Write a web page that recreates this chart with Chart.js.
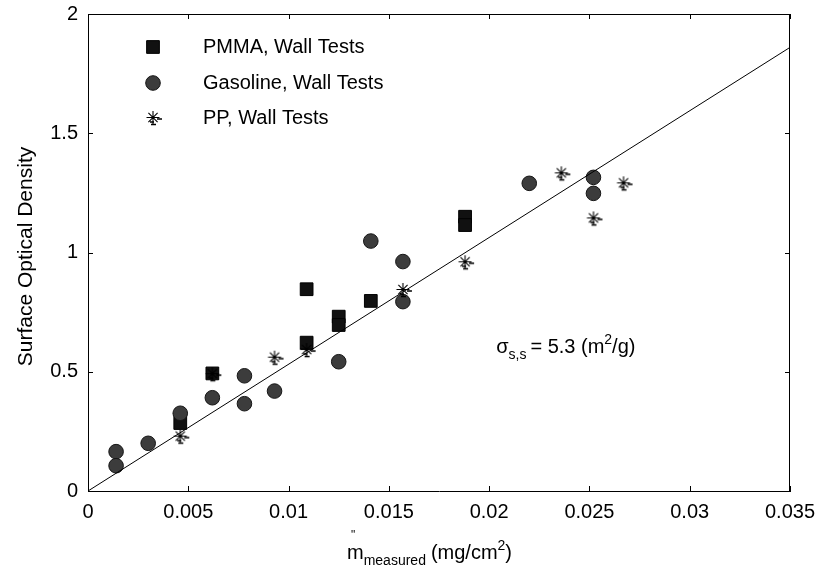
<!DOCTYPE html>
<html>
<head>
<meta charset="utf-8">
<script src="https://cdn.jsdelivr.net/npm/chart.js@4.4.1/dist/chart.umd.min.js"></script>
<style>
  html, body { margin: 0; padding: 0; background: #fff; }
  #wrap { width: 820px; height: 569px; }
</style>
</head>
<body>
<div id="wrap"><canvas id="chart" width="820" height="569"></canvas></div>
<script>
// values
const pmmaX = [0.0046, 0.0062, 0.0109, 0.0109, 0.0125, 0.0125, 0.0141, 0.0188, 0.0188];
const pmmaY = [0.285, 0.493, 0.622, 0.846, 0.731, 0.696, 0.797, 1.150, 1.115];

const gasX = [0.0014, 0.0014, 0.0030, 0.0046, 0.0062, 0.0078, 0.0078, 0.0093, 0.0125, 0.0141, 0.0157, 0.0157, 0.0220, 0.0252, 0.0252];
const gasY = [0.165, 0.106, 0.200, 0.326, 0.391, 0.483, 0.366, 0.419, 0.542, 1.048, 0.962, 0.794, 1.290, 1.315, 1.248];

const ppX = [0.0046, 0.0062, 0.0093, 0.0109, 0.0157, 0.0188, 0.0236, 0.0252, 0.0267];
const ppY = [0.228, 0.490, 0.559, 0.591, 0.843, 0.959, 1.332, 1.143, 1.290];

// fitted line, sigma = 5.3 m2/g
const fitX = [0, 0.035];
const fitY = [0, 1.86];

const seriesLabels = ['PMMA, Wall Tests', 'Gasoline, Wall Tests', 'PP, Wall Tests'];
const xTicks = [0, 0.005, 0.01, 0.015, 0.02, 0.025, 0.03, 0.035];
const yTicks = [0, 0.5, 1, 1.5, 2];

const FONT = "'Liberation Sans', Arial, sans-serif";

function pts(xs, ys) {
    return xs.map((x, i) => ({x: x, y: ys[i]}));
}

// asterisk marker with the little smudge the original has
function makeStar() {
    const c = document.createElement('canvas');
    c.width = 24;
    c.height = 24;
    const g = c.getContext('2d');
    g.strokeStyle = '#000';
    g.lineWidth = 1.1;
    const cx = 12, cy = 11.5, r = 6.5;
    g.beginPath();
    for (let k = 0; k < 4; k++) {
        const a = k * Math.PI / 4;
        g.moveTo(cx - r * Math.cos(a), cy - r * Math.sin(a));
        g.lineTo(cx + r * Math.cos(a), cy + r * Math.sin(a));
    }
    g.stroke();
    g.lineWidth = 1.5;
    g.beginPath();
    g.moveTo(16, 13); g.lineTo(21, 13);
    g.moveTo(9, 16); g.lineTo(13, 16);
    g.moveTo(10, 18.5); g.lineTo(15, 18.5);
    g.stroke();
    return c;
}
const starImg = makeStar();

const styles = [
    {pointStyle: 'rect', radius: 9, backgroundColor: '#111', borderColor: '#000', borderWidth: 1},
    {pointStyle: 'circle', radius: 7.3, backgroundColor: '#3c3c3c', borderColor: '#151515', borderWidth: 1},
    {pointStyle: starImg, radius: 7, backgroundColor: '#000', borderColor: '#000', borderWidth: 1}
];

const framePlugin = {
    id: 'frame',
    afterDraw(chart) {
        const ctx = chart.ctx;
        const a = chart.chartArea;
        const xs = chart.scales.x, ys = chart.scales.y;
        const tl = 5;
        ctx.save();
        ctx.strokeStyle = '#000';
        ctx.lineWidth = 1;
        ctx.beginPath();
        ctx.moveTo(a.left, a.top + 0.5);
        ctx.lineTo(a.right, a.top + 0.5);
        ctx.moveTo(a.right - 0.5, a.top);
        ctx.lineTo(a.right - 0.5, a.bottom);
        xTicks.forEach(v => {
            const px = Math.round(xs.getPixelForValue(v)) + 0.5;
            ctx.moveTo(px, a.bottom); ctx.lineTo(px, a.bottom - tl);
            ctx.moveTo(px, a.top); ctx.lineTo(px, a.top + tl);
        });
        yTicks.forEach(v => {
            const py = Math.round(ys.getPixelForValue(v)) + 0.5;
            ctx.moveTo(a.left, py); ctx.lineTo(a.left + tl, py);
            ctx.moveTo(a.right, py); ctx.lineTo(a.right - tl, py);
        });
        ctx.stroke();

        // legend
        const lx = 153, ly = [47, 83, 118];
        ctx.font = '20px ' + FONT;
        ctx.textBaseline = 'middle';
        ctx.textAlign = 'left';
        styles.forEach((s, i) => {
            ctx.fillStyle = s.backgroundColor;
            ctx.strokeStyle = s.borderColor;
            ctx.lineWidth = s.borderWidth;
            Chart.helpers.drawPoint(ctx, {pointStyle: s.pointStyle, radius: s.radius, rotation: 0, borderWidth: s.borderWidth}, lx, ly[i]);
            ctx.fillStyle = '#000';
            ctx.fillText(seriesLabels[i], 203, ly[i]);
        });

        // sigma annotation
        ctx.textBaseline = 'alphabetic';
        let x = xs.getPixelForValue(0.02035);
        const base = ys.getPixelForValue(0.579);
        ctx.font = '20px ' + FONT;
        ctx.fillText('\u03c3', x, base);
        x += ctx.measureText('\u03c3').width;
        ctx.font = '14px ' + FONT;
        ctx.fillText('s,s', x, base + 6);
        x += ctx.measureText('s,s').width + 4;
        ctx.font = '20px ' + FONT;
        ctx.fillText('= 5.3 (m', x, base);
        x += ctx.measureText('= 5.3 (m').width;
        ctx.font = '14px ' + FONT;
        ctx.fillText('2', x, base - 9);
        x += ctx.measureText('2').width;
        ctx.font = '20px ' + FONT;
        ctx.fillText('/g)', x, base);

        // x title
        let tx = 347;
        const tb = 559;
        ctx.font = '20px ' + FONT;
        ctx.fillText('m', tx, tb);
        const mw = ctx.measureText('m').width;
        ctx.font = '12px ' + FONT;
        ctx.fillText('"', tx + 4, tb - 20);
        ctx.font = '14px ' + FONT;
        ctx.fillText('measured', tx + mw, tb + 6);
        tx += mw + ctx.measureText('measured').width + 5;
        ctx.font = '20px ' + FONT;
        ctx.fillText('(mg/cm', tx, tb);
        tx += ctx.measureText('(mg/cm').width;
        ctx.font = '14px ' + FONT;
        ctx.fillText('2', tx, tb - 9);
        tx += ctx.measureText('2').width;
        ctx.font = '20px ' + FONT;
        ctx.fillText(')', tx, tb);

        // y title
        ctx.translate(26, (a.top + a.bottom) / 2 + 4);
        ctx.rotate(-Math.PI / 2);
        ctx.textAlign = 'center';
        ctx.textBaseline = 'middle';
        ctx.font = '21px ' + FONT;
        ctx.fillText('Surface Optical Density', 0, 0);
        ctx.restore();
    }
};

const pointSet = (i, xs, ys) => ({
    type: 'scatter',
    label: seriesLabels[i],
    data: pts(xs, ys),
    pointStyle: styles[i].pointStyle,
    pointRadius: styles[i].radius,
    pointHoverRadius: styles[i].radius,
    backgroundColor: styles[i].backgroundColor,
    borderColor: styles[i].borderColor,
    borderWidth: styles[i].borderWidth,
    showLine: false
});

const ds = [
    Object.assign(pointSet(0, pmmaX, pmmaY), {order: 3}),
    Object.assign(pointSet(1, gasX, gasY), {order: 2}),
    Object.assign(pointSet(2, ppX, ppY), {order: 1}),
    {
        type: 'line',
        label: 'fit',
        data: pts(fitX, fitY),
        borderColor: '#000',
        borderWidth: 1,
        pointRadius: 0,
        fill: false,
        order: 0
    }
];

new Chart(document.getElementById('chart'), {
    data: {datasets: ds},
    options: {
        responsive: false,
        devicePixelRatio: 1,
        animation: false,
        layout: {padding: {top: 14, right: 30, left: 0, bottom: 0}},
        plugins: {
            legend: {display: false},
            tooltip: {enabled: false}
        },
        scales: {
            x: {
                type: 'linear',
                min: 0,
                max: 0.035,
                afterFit: s => { s.height = 78; s.paddingLeft = 0; s.paddingRight = 0; },
                afterBuildTicks: s => { s.ticks = xTicks.map(v => ({value: v})); },
                grid: {display: false, drawTicks: false},
                border: {display: true, color: '#000', width: 1},
                ticks: {
                    padding: 9,
                    maxRotation: 0,
                    autoSkip: false,
                    color: '#000',
                    font: {family: FONT, size: 20},
                    callback: v => String(+(+v).toFixed(3))
                }
            },
            y: {
                type: 'linear',
                min: 0,
                max: 2,
                afterFit: s => { s.width = 88; s.paddingTop = 0; s.paddingBottom = 0; },
                afterBuildTicks: s => { s.ticks = yTicks.map(v => ({value: v})); },
                grid: {display: false, drawTicks: false},
                border: {display: true, color: '#000', width: 1},
                ticks: {
                    padding: 10,
                    color: '#000',
                    font: {family: FONT, size: 20},
                    callback: v => String(+(+v).toFixed(1))
                }
            }
        }
    },
    plugins: [framePlugin]
});
</script>
</body>
</html>
